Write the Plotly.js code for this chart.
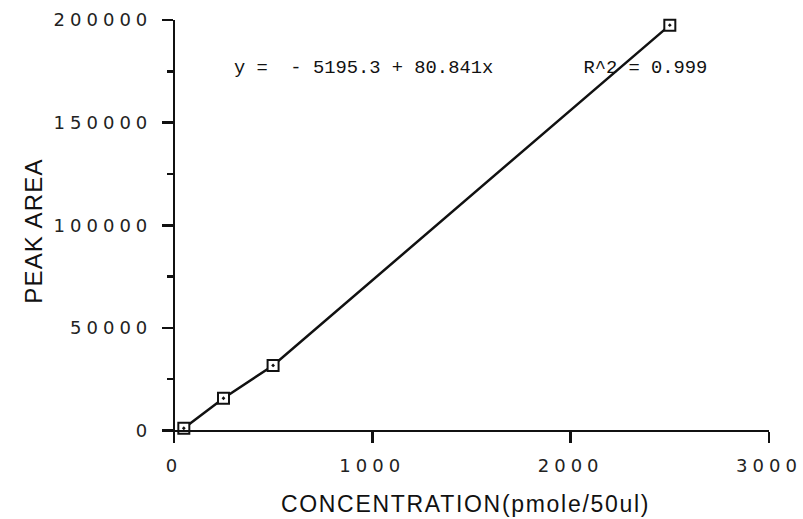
<!DOCTYPE html>
<html><head><meta charset="utf-8">
<script src="https://cdn.plot.ly/plotly-3.0.1.min.js"></script>
<style>
html,body{margin:0;padding:0;background:#fff;}
#chart{width:803px;height:519px;}
.xtick text,.ytick text{letter-spacing:5px;}
.g-xtitle text{letter-spacing:1.7px;}
.g-ytitle text{letter-spacing:1.2px;}
</style></head><body><div id="chart"></div>
<script>
const concentration = [50, 250, 500, 2500];
const peakArea = [1100, 15700, 31700, 197500];
const xTickValues = [0, 1000, 2000, 3000];
const xTickLabels = ['0', '1000', '2000', '3000'];
const yTickValues = [0, 50000, 100000, 150000, 200000];
const yTickLabels = ['0', '50000', '100000', '150000', '200000'];
const xTitle = 'CONCENTRATION(pmole/50ul)';
const yTitle = 'PEAK AREA';
const fitText = 'y =  - 5195.3 + 80.841x        R^2 = 0.999';

const xRange = [-60, 3000];
const yRange = [-5600, 200000];
const ink = '#111';

const trace = {
  x: concentration, y: peakArea, type: 'scatter', mode: 'lines+markers',
  line: {color: ink, width: 2.5},
  marker: {symbol: 'square-dot', size: 11, color: '#fff', line: {color: ink, width: 2}},
  cliponaxis: false, hoverinfo: 'skip'
};

const layout = {
  width: 803, height: 519,
  margin: {l: 162, r: 34, t: 20, b: 77, pad: 0},
  paper_bgcolor: '#fff', plot_bgcolor: '#fff',
  showlegend: false,
  xaxis: {
    range: xRange, anchor: 'free', position: (0 - yRange[0]) / (yRange[1] - yRange[0]),
    tickmode: 'array', tickvals: xTickValues, ticktext: xTickLabels,
    showline: true, linecolor: ink, linewidth: 2.5,
    ticks: 'outside', ticklen: 11, tickwidth: 2.5, tickcolor: ink,
    showgrid: false, zeroline: false, automargin: false,
    tickfont: {family: 'DejaVu Sans', size: 18, color: '#222'},
    ticklabelstandoff: 7,
    title: {text: xTitle, font: {family: 'Liberation Sans', size: 23, color: ink}, standoff: 21}
  },
  yaxis: {
    range: yRange, anchor: 'free', position: (0 - xRange[0]) / (xRange[1] - xRange[0]),
    tickmode: 'array', tickvals: yTickValues, ticktext: yTickLabels,
    showline: true, linecolor: ink, linewidth: 2.5,
    ticks: 'outside', ticklen: 11, tickwidth: 2.5, tickcolor: ink,
    minor: {dtick: 25000, tick0: 0, ticks: 'outside', ticklen: 6, tickwidth: 2.5, tickcolor: ink, showgrid: false},
    showgrid: false, zeroline: false, automargin: false,
    tickfont: {family: 'DejaVu Sans', size: 18, color: '#222'},
    ticklabelstandoff: 6,
    title: {text: yTitle, font: {family: 'Liberation Sans', size: 24, color: ink}, standoff: 3}
  },
  annotations: [{
    text: fitText, xref: 'paper', yref: 'paper', x: 0.1153, y: 0.886,
    xanchor: 'left', yanchor: 'middle', showarrow: false,
    font: {family: 'Liberation Mono', size: 18.8, color: ink}
  }]
};

Plotly.newPlot('chart', [trace], layout, {displayModeBar: false, staticPlot: true});
</script></body></html>
